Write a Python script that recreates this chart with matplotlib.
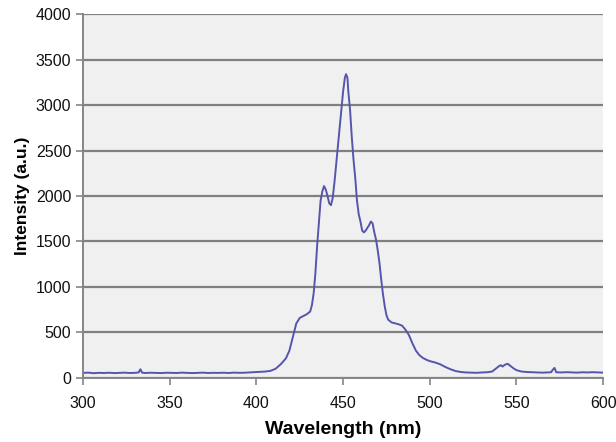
import matplotlib
matplotlib.use("Agg")
import matplotlib.pyplot as plt

wavelength = [300, 303, 306, 309, 312, 315, 318, 321, 324, 327, 330, 332, 333, 334, 336, 339,
              342, 345, 348, 351, 354, 357, 360, 363, 366, 369, 372, 375, 378, 381, 384, 387,
              390, 393, 396, 399, 402, 405, 408, 411, 414, 417, 419, 421, 423, 425, 427, 429,
              431, 432, 433, 434, 435, 436, 437, 438, 439, 440, 441, 442, 443, 444, 445, 446,
              447, 448, 449, 450, 451, 451.7, 452.5, 453, 454, 455, 456, 457, 458, 459, 460,
              461, 462, 463, 464, 465, 466, 467, 468, 469, 470, 471, 472, 473, 474, 475, 476,
              478, 480, 482, 484, 486, 488, 490, 492, 494, 496, 498, 500, 503, 506, 509, 512,
              515, 518, 521, 524, 527, 530, 533, 536, 538, 540, 541, 542, 543, 544, 545, 546,
              548, 550, 553, 556, 559, 562, 565, 568, 570, 571, 572, 573, 576, 579, 582, 585,
              588, 591, 594, 597, 600]
intensity = [55, 58, 52, 56, 54, 57, 53, 55, 58, 54, 56, 60, 95, 58, 54, 57,
             55, 53, 57, 55, 54, 58, 55, 53, 56, 58, 54, 56, 55, 57, 54, 58,
             56, 57, 60, 62, 65, 70, 77, 100, 150, 215, 300, 450, 600, 660, 680, 700,
             730, 800, 930, 1150, 1450, 1700, 1950, 2050, 2110, 2070, 2000, 1920, 1900, 1980, 2150, 2350,
             2550, 2750, 2950, 3150, 3300, 3340, 3300, 3150, 2950, 2650, 2400, 2200, 1950, 1800, 1720,
             1620, 1600, 1620, 1650, 1680, 1720, 1700, 1600, 1520, 1400, 1260, 1080, 920, 790, 690, 640,
             610, 600, 590, 575, 530, 470, 380, 300, 250, 220, 200, 185, 170, 150, 120, 95,
             75, 65, 60, 58, 56, 60, 62, 70, 100, 130, 140, 125, 140, 150, 155, 140,
             110, 85, 70, 65, 62, 60, 58, 60, 62, 90, 110, 62, 60, 63, 60, 58,
             62, 60, 63, 60, 58]

x_ticks = [300, 350, 400, 450, 500, 550, 600]
y_ticks = [0, 500, 1000, 1500, 2000, 2500, 3000, 3500, 4000]

plt.rcParams['font.family'] = ['Liberation Sans', 'DejaVu Sans']

fig = plt.figure(figsize=(6.16, 4.42), dpi=100)
ax = fig.add_axes([0.135, 0.145, 0.844, 0.823])
ax.set_facecolor('#F0F0F0')
ax.plot(wavelength, intensity, color='#5555AD', lw=1.4)

ax.set_xlim(300, 600)
ax.set_ylim(0, 4000)
ax.set_xticks(x_ticks)
ax.set_yticks(y_ticks)
ax.yaxis.grid(True, color='#808080', lw=1.6)
ax.set_axisbelow(True)
for s in ['top', 'right']:
    ax.spines[s].set_visible(False)
for s in ['left', 'bottom']:
    ax.spines[s].set_color('#858585')
    ax.spines[s].set_linewidth(1.4)
ax.tick_params(axis='both', colors='#858585', labelcolor='#111111', length=5, width=1.2,
               labelsize=11.5, direction='out')
ax.tick_params(axis='x', pad=8)
ax.set_xlabel('Wavelength (nm)', fontsize=14, fontweight='bold', labelpad=7)
ax.set_ylabel('Intensity (a.u.)', fontsize=12.5, fontweight='bold', labelpad=4)

fig.savefig('out.png', dpi=100)
